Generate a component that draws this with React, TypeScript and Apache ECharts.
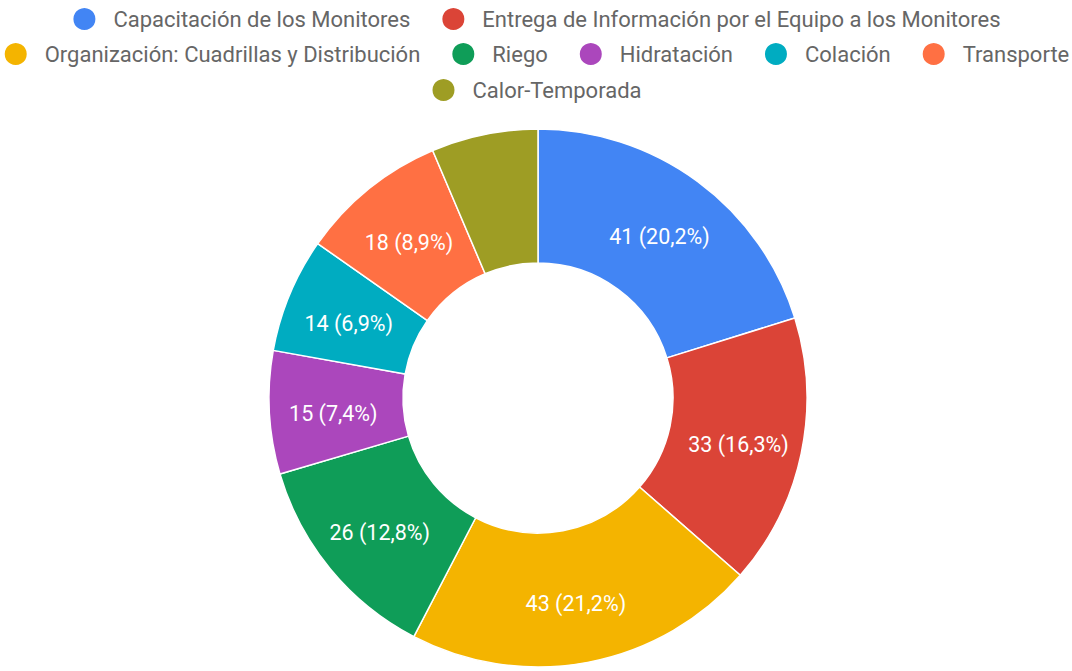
import React, { useEffect, useRef } from "react";
import * as echarts from "echarts";

const categories = [
  "Capacitación de los Monitores",
  "Entrega de Información por el Equipo a los Monitores",
  "Organización: Cuadrillas y Distribución",
  "Riego",
  "Hidratación",
  "Colación",
  "Transporte",
  "Calor-Temporada",
];
const values = [41, 33, 43, 26, 15, 14, 18, 13];
const colors = ["#4285F4", "#DB4437", "#F4B400", "#0F9D58", "#AB47BC", "#00ACC1", "#FF7043", "#9E9D24"];
const legendRows = [
  categories.slice(0, 2),
  categories.slice(2, 7),
  categories.slice(7),
];

export default function App() {
  const ref = useRef<HTMLDivElement>(null);
  useEffect(() => {
    document.body.style.margin = "0";
    const chart = echarts.init(ref.current!, null, { renderer: "svg" });
    const total = values.reduce((a, b) => a + b, 0);
    const font = "Roboto, 'Noto Sans', sans-serif";
    const legendTops = [6, 41, 77];
    chart.setOption({
      animation: false,
      color: colors,
      legend: legendRows.map((row, i) => ({
        data: row,
        top: legendTops[i],
        left: "center",
        padding: 0,
        orient: "horizontal",
        icon: "circle",
        itemWidth: 24,
        itemHeight: 24,
        itemGap: 30,
        selectedMode: false,
        textStyle: {
          fontFamily: font,
          fontSize: 22,
          color: "#666666",
          padding: [0, 0, 0, 12],
        },
      })),
      series: [
        {
          type: "pie",
          center: [538, 398],
          radius: [135, 269],
          startAngle: 90,
          clockwise: true,
          avoidLabelOverlap: false,
          itemStyle: { borderColor: "#ffffff", borderWidth: 1.5 },
          label: {
            show: true,
            position: "inside",
            color: "#ffffff",
            fontFamily: font,
            fontSize: 21.5,
            formatter: (p: any) => {
              const pct = (p.value / total) * 100;
              if (pct < 6.5) return "";
              return `{s| }\n{t|${p.value} (${pct.toFixed(1).replace(".", ",")}%)}`;
            },
            rich: {
              s: { fontSize: 1, lineHeight: 8 },
              t: { fontSize: 21.5, color: "#ffffff", fontFamily: font, lineHeight: 26 },
            },
          },
          labelLine: { show: false },
          emphasis: { disabled: true },
          data: categories.map((name, i) => ({ name, value: values[i] })),
        },
      ],
    });
    return () => chart.dispose();
  }, []);
  return <div ref={ref} style={{ width: 1072, height: 671 }} />;
}
